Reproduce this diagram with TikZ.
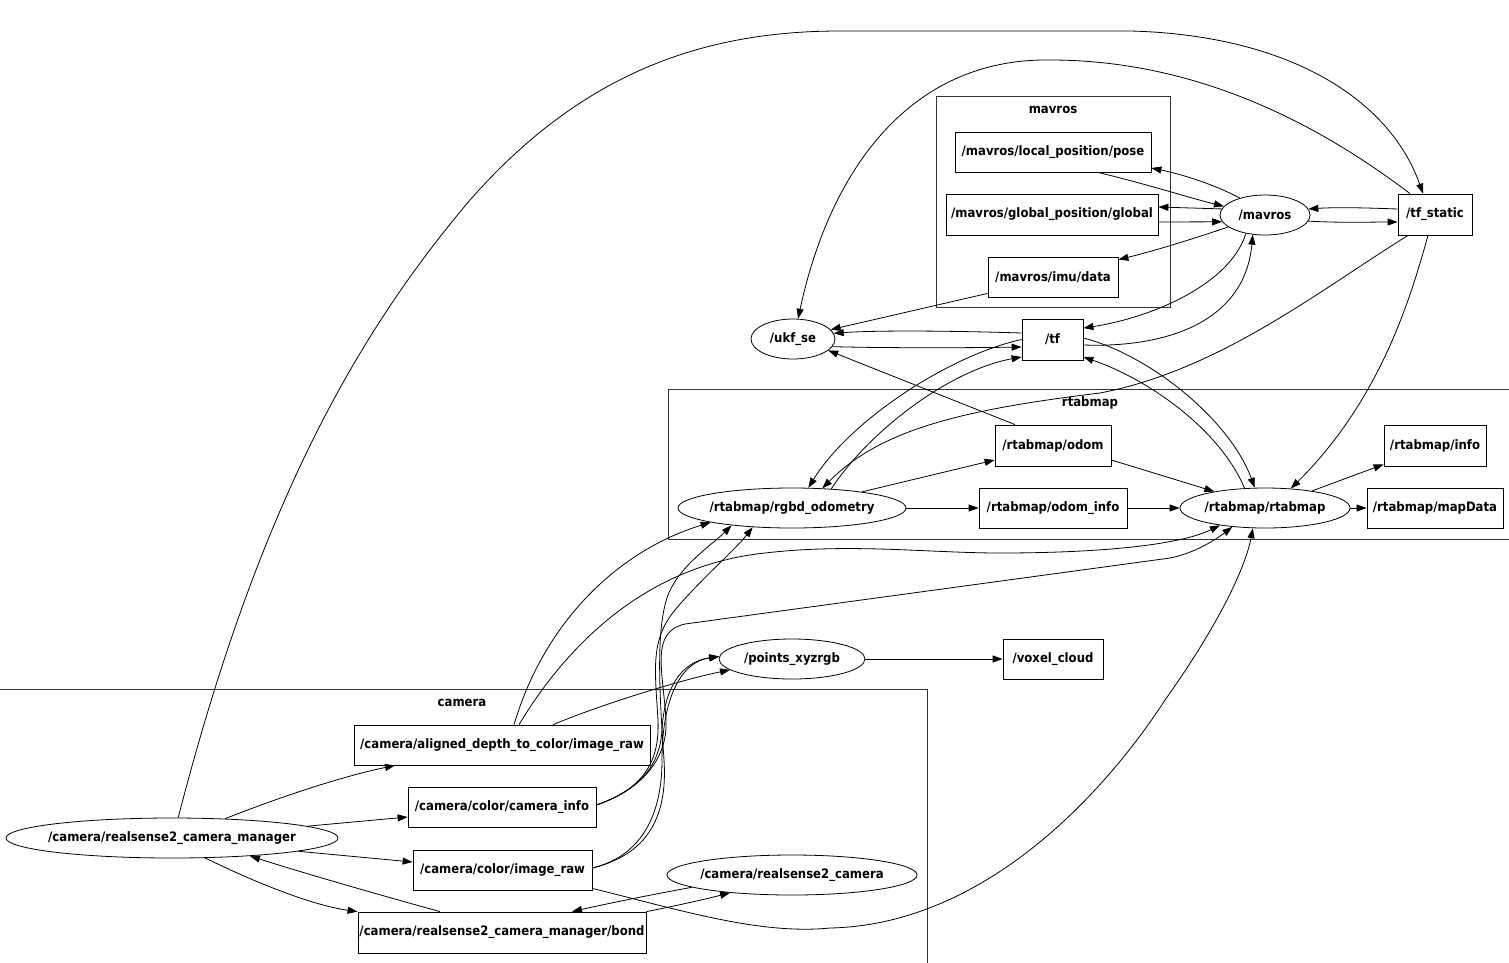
\documentclass[tikz,border=0pt]{standalone}
\usepackage{fontspec}
\newfontfamily\gvfont{DejaVu Sans Condensed}
\usetikzlibrary{arrows.meta,shapes.geometric,calc}
\begin{document}
\begin{tikzpicture}[x=1pt,y=-1pt,
  every node/.style={font=\gvfont\bfseries\fontsize{13}{15}\selectfont},
  topic/.style={draw, rectangle, minimum height=40pt, inner sep=0pt, line width=0.8pt},
  proc/.style={draw, ellipse, minimum height=40pt, inner sep=0pt, line width=0.8pt},
  cluster/.style={draw=black!80, line width=0.9pt},
  clabel/.style={inner sep=0pt},
  edge/.style={-{Triangle[length=10pt,width=7pt]}, line width=0.8pt}]
\useasboundingbox (0,0) rectangle (1509,962);

% clusters
\draw[cluster] (936,96) rectangle (1170,307);
\draw[cluster] (668,389) rectangle (1515,539);
\draw[cluster] (-5,689) rectangle (927,970);
\node[clabel] (lmavros) at (1053,109.5) {mavros};
\node[clabel] (lrtab) at (1090,402.5) {rtabmap};
\node[clabel] (lcam) at (462,702.5) {camera};

% nodes
\node[topic, minimum width=196pt] (pose) at (1053,152) {\makebox[0pt]{/mavros/local\_position/pose}};
\node[topic, minimum width=212pt, minimum height=41pt] (global) at (1052,214.5) {\makebox[0pt]{/mavros/global\_position/global}};
\node[topic, minimum width=130pt] (imu) at (1053,277) {\makebox[0pt]{/mavros/imu/data}};
\node[proc, minimum width=90pt] (mavros) at (1265,215) {\makebox[0pt]{/mavros}};
\node[topic, minimum width=74pt, minimum height=41pt] (tfs) at (1435,214.5) {\makebox[0pt]{/tf\_static}};
\node[proc, minimum width=84pt] (ukf) at (793,339) {\makebox[0pt]{/ukf\_se}};
\node[topic, minimum width=61pt, minimum height=41pt] (tf) at (1052.5,339.5) {\makebox[0pt]{/tf}};
\node[topic, minimum width=116pt, minimum height=41pt] (odom) at (1053,445.5) {\makebox[0pt]{/rtabmap/odom}};
\node[topic, minimum width=102pt, minimum height=41pt] (info) at (1435,445.5) {\makebox[0pt]{/rtabmap/info}};
\node[proc, minimum width=228pt] (rgbd) at (792,508) {\makebox[0pt]{/rtabmap/rgbd\_odometry}};
\node[topic, minimum width=148pt] (odominfo) at (1053,508) {\makebox[0pt]{/rtabmap/odom\_info}};
\node[proc, minimum width=170pt] (rtab) at (1265,508) {\makebox[0pt]{/rtabmap/rtabmap}};
\node[topic, minimum width=136pt] (mapdata) at (1435,508) {\makebox[0pt]{/rtabmap/mapData}};
\node[proc, minimum width=146pt] (points) at (792,659) {\makebox[0pt]{/points\_xyzrgb}};
\node[topic, minimum width=100pt] (voxel) at (1053,659) {\makebox[0pt]{/voxel\_cloud}};
\node[topic, minimum width=296pt] (aligned) at (502,745) {\makebox[0pt]{/camera/aligned\_depth\_to\_color/image\_raw}};
\node[topic, minimum width=188pt] (cinfo) at (502,807) {\makebox[0pt]{/camera/color/camera\_info}};
\node[proc, minimum width=332pt] (manager) at (172,838) {\makebox[0pt]{/camera/realsense2\_camera\_manager}};
\node[topic, minimum width=179pt] (imgraw) at (502.5,870) {\makebox[0pt]{/camera/color/image\_raw}};
\node[proc, minimum width=250pt] (rs2) at (792,875) {\makebox[0pt]{/camera/realsense2\_camera}};
\node[topic, minimum width=288pt, minimum height=41pt] (bond) at (502,932.5) {\makebox[0pt]{/camera/realsense2\_camera\_manager/bond}};

% camera edges
\draw[edge] (manager.20) .. controls (280,797) and (340,777) .. ($(aligned.south)+(-107,0)$);
\draw[edge] (manager.5) -- ($(cinfo.west)+(0,10)$);
\draw[edge] (manager.-6) -- ($(imgraw.west)+(0,-8)$);
\draw[edge] (manager.-31) .. controls (250,880) and (310,905) .. (bond.north west);
\draw[edge] ($(bond.north)+(-62,0)$) .. controls (380,895) and (310,875) .. (manager.-13);
\draw[edge] (bond.north east) .. controls (680,905) and (710,898) .. (rs2.-164);
\draw[edge] (rs2.-173) .. controls (660,893) and (610,903) .. ($(bond.north)+(70,0)$);

% long curves
\draw[edge] (manager.73) .. controls (260,500) and (360,330) .. (470,200) .. controls (580,75) and (700,31) .. (840,31) -- (1130,31) .. controls (1290,35) and (1390,100) .. ($(tfs.north)+(-12,0)$);
\draw[edge] ($(tfs.north)+(-25,0)$) .. controls (1300,110) and (1180,60) .. (1050,60) .. controls (910,58) and (830,170) .. (ukf.76);

% mavros
\draw[edge] ($(tfs.west)+(0,-5.5)$) .. controls (1370,208) and (1340,207) .. (mavros.8);
\draw[edge] (mavros.-8) .. controls (1340,223) and (1370,222) .. ($(tfs.west)+(0,7.5)$);
\draw[edge] (mavros.146) .. controls (1215,185) and (1185,175) .. ($(pose.east)+(0,16)$);
\draw[edge] ($(pose.south)+(45,0)$) .. controls (1150,185) and (1190,198) .. (mavros.168);
\draw[edge] (mavros.172) -- ($(global.east)+(0,-7.5)$);
\draw[edge] ($(global.east)+(0,7.5)$) -- (mavros.189);
\draw[edge] (mavros.198) .. controls (1190,240) and (1150,252) .. ($(imu.north east)+(0,3)$);
\draw[edge] ($(imu.south west)+(0,-4)$) -- (ukf.14);

% tf
\draw[edge] ($(tf.west)+(0,-6.5)$) .. controls (960,331) and (880,330) .. (ukf.8);
\draw[edge] (ukf.-11) .. controls (880,348) and (960,348) .. ($(tf.west)+(0,7.5)$);
\draw[edge] (mavros.224) .. controls (1230,285) and (1150,318) .. ($(tf.east)+(0,-11.5)$);
\draw[edge] ($(tf.east)+(0,5.5)$) .. controls (1170,348) and (1245,320) .. (mavros.238);
\draw[edge] (tf.west) .. controls (950,355) and (850,420) .. (rgbd.51);
\draw[edge] (rgbd.26) .. controls (870,430) and (950,370) .. ($(tf.west)+(0,17.5)$);
\draw[edge] ($(tfs.south)+(-27,0)$) .. controls (1320,290) and (1220,370) .. (1100,393) .. controls (960,410) and (880,430) .. (rgbd.33);
\draw[edge] ($(tfs.south)+(-7,0)$) .. controls (1410,300) and (1380,400) .. (rtab.37);
\draw[edge] ($(tf.east)+(0,-1.5)$) .. controls (1150,355) and (1230,420) .. (rtab.117);
\draw[edge] (rtab.136) .. controls (1220,430) and (1150,380) .. ($(tf.east)+(0,17.5)$);

% rtabmap
\draw[edge] ($(odom.north)+(-38,0)$) -- (ukf.-18);
\draw[edge] (rgbd.13) -- ($(odom.west)+(0,14.5)$);
\draw[edge] (rgbd.east) -- (odominfo.west);
\draw[edge] ($(odom.east)+(0,14.5)$) -- (rtab.162);
\draw[edge] (odominfo.east) -- (rtab.west);
\draw[edge] (rtab.20) -- ($(info.south west)+(0,-2)$);
\draw[edge] (rtab.east) -- (mapdata.west);
\draw[edge] (points.east) -- (voxel.west);

% camera bundle
\draw[edge] ($(aligned.north)+(12,0)$) .. controls (545,620) and (620,550) .. (rgbd.190);
\draw[edge] ($(aligned.north)+(17,0)$) .. controls (570,640) and (650,565) .. (765,553) .. controls (850,543) and (930,553) .. (1000,553) .. controls (1100,553) and (1180,545) .. (rtab.201);
\draw[edge] ($(aligned.north)+(51,0)$) .. controls (600,705) and (680,680) .. (points.190);
\draw[edge] ($(cinfo.east)+(0,-2)$) .. controls (640,790) and (660,765) .. (662,730) .. controls (664,690) and (680,662) .. (points.178);
\draw[edge] ($(imgraw.east)+(0,-2)$) .. controls (645,855) and (662,810) .. (662,760) .. controls (662,700) and (680,662) .. (points.178);
\draw[edge] ($(imgraw.east)+(0,-2)$) .. controls (645,855) and (668,820) .. (664,760) .. controls (660,700) and (655,630) .. (668,595) .. controls (680,565) and (712,545) .. (rgbd.196);
\draw[edge] ($(cinfo.east)+(0,-2)$) .. controls (640,790) and (660,765) .. (658,720) .. controls (655,670) and (650,640) .. (675,610) .. controls (700,580) and (735,550) .. (rgbd.206);
\draw[edge] ($(cinfo.east)+(0,-2)$) .. controls (640,790) and (668,760) .. (666,720) .. controls (663,670) and (650,632) .. (685,624) -- (1170,558) .. controls (1195,553) and (1215,540) .. (rtab.210);
\draw[edge] ($(imgraw.south east)+(0,-2)$) .. controls (680,910) and (760,935) .. (830,928) .. controls (980,925) and (1100,800) .. (1165,700) .. controls (1215,630) and (1245,570) .. (rtab.239);
\end{tikzpicture}
\end{document}
